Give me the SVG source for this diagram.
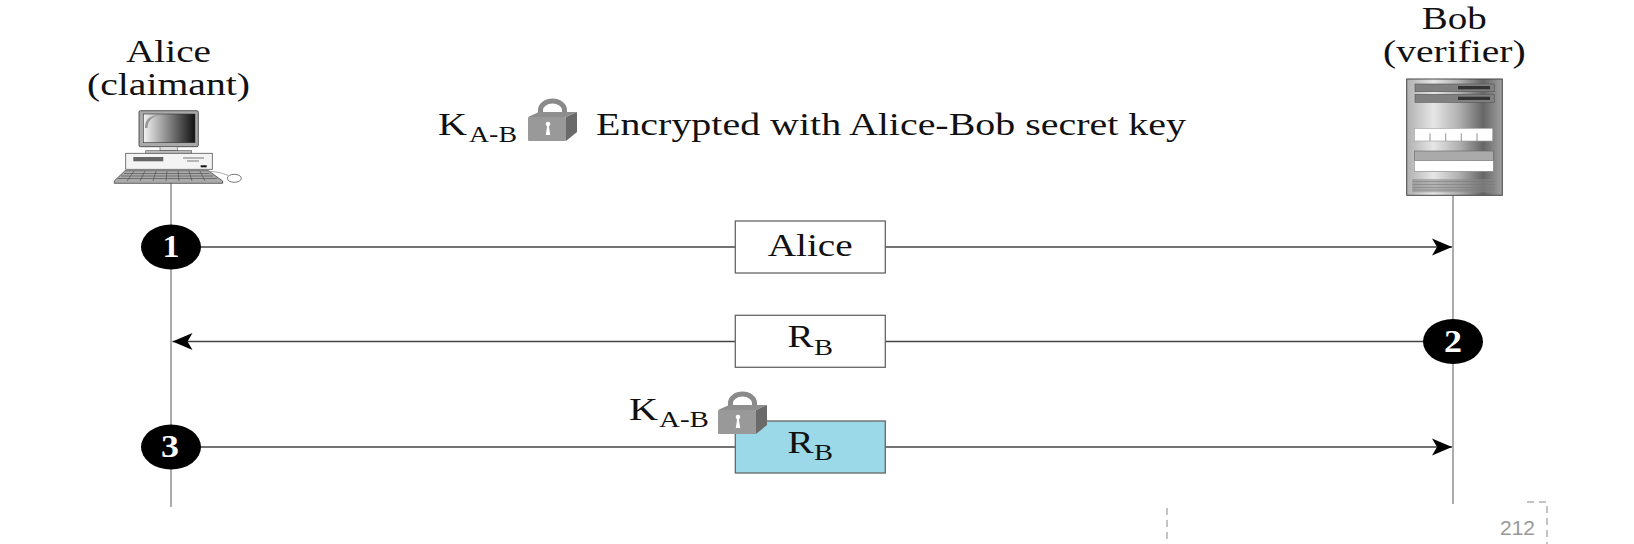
<svg xmlns="http://www.w3.org/2000/svg" width="1634" height="544" viewBox="0 0 1634 544">
<style>
text{font-family:"Liberation Serif","Times New Roman",serif;fill:#111}
.t{font-size:31px}
.s{font-size:23px}
.n{font-size:31px;font-weight:bold;fill:#fff;text-anchor:middle}
.life{stroke:#999;stroke-width:1.6;fill:none}
.msg{stroke:#444;stroke-width:1.3;fill:none;marker-end:url(#arrow)}
.box{stroke:#666;stroke-width:1.3;fill:#fff}
.dash{stroke:#888;stroke-width:1;stroke-dasharray:7 5;fill:none}
</style>
<defs>
<marker id="arrow" markerUnits="userSpaceOnUse" markerWidth="22" markerHeight="20" refX="20" refY="9" orient="auto">
<path d="M0 0.5L20 9L0 17.5L5 9Z" fill="#000"/>
</marker>
<linearGradient id="scr" x1="0" x2="1" y1="0" y2="0"><stop offset="0" stop-color="#f4f4f4"/><stop offset="1" stop-color="#111"/></linearGradient>
<linearGradient id="srv" x1="0" x2="1" y1="0" y2="0"><stop offset="0" stop-color="#b0b0b0"/><stop offset=".28" stop-color="#e6e6e6"/><stop offset=".55" stop-color="#b0b0b0"/><stop offset=".8" stop-color="#666"/><stop offset="1" stop-color="#a0a0a0"/></linearGradient>
<g id="lock">
<path d="M12.500 16V11a12 9 0 0 1 24 0V16" fill="none" stroke="#8a8a8a" stroke-width="5"/>
<path d="M0 18L11 13H49L38 18Z" fill="#8e8e8e"/>
<path d="M38 18L49 13V33L38 42Z" fill="#6a6a6a"/>
<rect x="0" y="18" width="38" height="24" rx="1" fill="#999"/>
<circle cx="20" cy="25" r="2.300" fill="#fff"/>
<path d="M19.300 26H20.700L22.200 36H17.800Z" fill="#fff"/>
</g>
</defs>
<rect width="1634" height="544" fill="#fff"/>

<g id="connectors">
<line class="life" x1="171" y1="183" x2="171" y2="507"/>
<line class="life" x1="1453" y1="195" x2="1453" y2="504"/>
<line class="msg" x1="190" y1="247" x2="1452" y2="247"/>
<line class="msg" x1="1430" y1="341.500" x2="172.500" y2="341.500"/>
<line class="msg" x1="190" y1="447" x2="1452" y2="447"/>
</g>

<g id="alice">
<text class="t" x="126" y="62" textLength="85" lengthAdjust="spacingAndGlyphs">Alice</text>
<text class="t" x="87" y="95" textLength="163" lengthAdjust="spacingAndGlyphs">(claimant)</text>
<rect x="139" y="110.700" width="59.300" height="36" rx="1.500" fill="#aaa" stroke="#333" stroke-width=".8"/>
<rect x="143.300" y="114" width="51.700" height="28.700" fill="url(#scr)" stroke="#333" stroke-width=".6"/>
<path d="M145 128C145 120 148 116 161 114.500C151 117 148 121 147.500 128Z" fill="#999"/>
<rect x="160" y="146.700" width="17.300" height="4" fill="#ddd" stroke="#555" stroke-width=".6"/>
<rect x="145.700" y="150.700" width="46" height="2.600" fill="#bbb" stroke="#555" stroke-width=".6"/>
<rect x="125.700" y="153.300" width="86.600" height="16" fill="#f4f4f4" stroke="#555" stroke-width=".8"/>
<rect x="133.300" y="157" width="30" height="4.300" fill="#666"/>
<path d="M183 158H204M187 161H199" stroke="#777" stroke-width="1"/>
<rect x="200.700" y="165.300" width="6" height="2" fill="#111"/>
<path d="M125 170.700H208.300L222.700 181V183.300H114.300V181Z" fill="#aaa" stroke="#444" stroke-width=".8"/>
<path d="M124 173.500H209.500M121 176H213M118 178.500H217M134 171L127 181M145 171L140 181M156 171L153 181M167 171L166 181M178 171L179 181M189 171L192 181M200 171L205 181" stroke="#444" stroke-width=".6" fill="none"/>
<path d="M208 171C215 172 220 172 228 175.500" stroke="#888" stroke-width=".7" fill="none"/>
<ellipse cx="234.300" cy="178.300" rx="7" ry="4" fill="#fff" stroke="#555" stroke-width=".8"/>
</g>

<g id="bob">
<text class="t" x="1421.700" y="29" textLength="65" lengthAdjust="spacingAndGlyphs">Bob</text>
<text class="t" x="1383" y="62" textLength="142.700" lengthAdjust="spacingAndGlyphs">(verifier)</text>
<rect x="1406.700" y="79" width="95.600" height="116.300" fill="url(#srv)" stroke="#444" stroke-width="1"/>
<rect x="1415" y="84" width="79.300" height="7.700" fill="#808080" stroke="#555" stroke-width=".6"/>
<rect x="1458" y="86" width="32" height="3.300" fill="#333"/>
<rect x="1415" y="94.300" width="79.300" height="8" fill="#808080" stroke="#555" stroke-width=".6"/>
<rect x="1458" y="96.700" width="32" height="3.300" fill="#333"/>
<rect x="1414.300" y="128.300" width="78.400" height="12.700" fill="#fff" stroke="#999" stroke-width=".6"/>
<path d="M1430 133.300V141M1445.700 133.300V141M1461.300 133.300V141M1477 133.300V141" stroke="#777" stroke-width=".8"/>
<rect x="1414.300" y="151" width="79" height="9.700" fill="#aaa" stroke="#666" stroke-width=".6"/>
<rect x="1414.300" y="160.700" width="79" height="10.600" fill="#fff" stroke="#888" stroke-width=".6"/>
<rect x="1412.300" y="179" width="82.700" height="13.300" fill="#888" opacity=".55"/>
<path d="M1412.300 181.500H1495M1412.300 184.500H1495M1412.300 187.500H1495M1412.300 190H1495" stroke="#777" stroke-width="1.200" opacity=".5"/>
</g>

<g id="legend">
<text class="t" x="438" y="135" textLength="29" lengthAdjust="spacingAndGlyphs">K</text>
<text class="s" x="469" y="142" textLength="48" lengthAdjust="spacingAndGlyphs">A-B</text>
<use href="#lock" x="528" y="99"/>
<text class="t" x="596" y="135" textLength="590" lengthAdjust="spacingAndGlyphs">Encrypted with Alice-Bob secret key</text>
</g>

<g id="step1"><ellipse cx="171" cy="247" rx="30" ry="22.500" fill="#000"/><text class="n" x="171" y="257" textLength="17" lengthAdjust="spacingAndGlyphs">1</text></g>
<g id="step2"><ellipse cx="1453" cy="341.500" rx="30" ry="22.500" fill="#000"/><text class="n" x="1453" y="351.500" textLength="18" lengthAdjust="spacingAndGlyphs">2</text></g>
<g id="step3"><ellipse cx="171" cy="447" rx="30" ry="22.500" fill="#000"/><text class="n" x="170" y="457" textLength="18" lengthAdjust="spacingAndGlyphs">3</text></g>

<g id="msg-alice">
<rect class="box" x="735.300" y="221" width="150" height="52"/>
<text class="t" x="767.700" y="256" textLength="85" lengthAdjust="spacingAndGlyphs">Alice</text>
</g>
<g id="msg-rb">
<rect class="box" x="735.300" y="315.300" width="150" height="52"/>
<text class="t" x="787.500" y="347" textLength="26" lengthAdjust="spacingAndGlyphs">R</text>
<text class="s" x="814" y="354.500" textLength="19" lengthAdjust="spacingAndGlyphs">B</text>
</g>
<g id="msg-encrypted">
<rect class="box" x="735.300" y="421" width="150" height="52" style="fill:#9bd9e9"/>
<text class="t" x="787.500" y="452.500" textLength="26" lengthAdjust="spacingAndGlyphs">R</text>
<text class="s" x="814" y="459.500" textLength="19" lengthAdjust="spacingAndGlyphs">B</text>
<text class="t" x="629" y="420" textLength="29" lengthAdjust="spacingAndGlyphs">K</text>
<text class="s" x="659" y="427" textLength="50" lengthAdjust="spacingAndGlyphs">A-B</text>
<use href="#lock" x="718" y="392"/>
</g>

<g id="page">
<path class="dash" d="M1167 508V544"/>
<path class="dash" d="M1527 502H1547V544"/>
<text x="1500" y="535" style="font-family:'Liberation Sans',Arial,sans-serif;font-size:21px;fill:#999">212</text>
</g>
</svg>
